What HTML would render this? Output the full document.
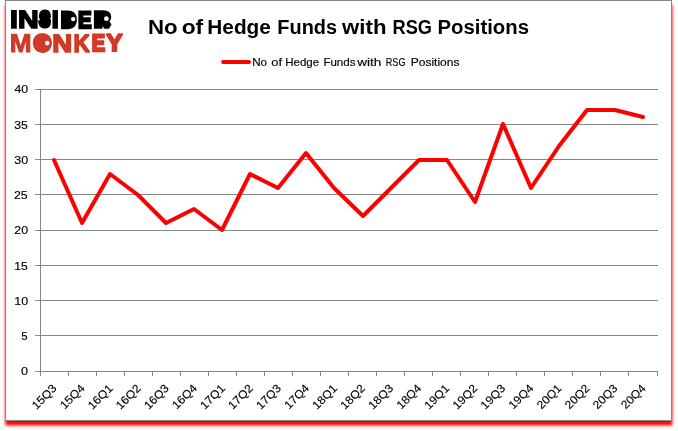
<!DOCTYPE html>
<html lang="en">
<head>
<meta charset="utf-8">
<title>No of Hedge Funds with RSG Positions</title>
<style>
html,body{margin:0;padding:0;background:#fff;}
body{width:678px;height:431px;overflow:hidden;position:relative;font-family:"Liberation Sans",sans-serif;}
svg{position:absolute;left:0;top:0;}
text{font-family:"Liberation Sans",sans-serif;fill:#000;}
#logo text{text-rendering:geometricPrecision;}
.t{stroke:#000;stroke-width:0.15px;}
.tb{stroke:none;}
</style>
</head>
<body>
<svg width="678" height="431" viewBox="0 0 678 431">
<defs><filter id="sh" x="-5%" y="-5%" width="110%" height="110%"><feGaussianBlur stdDeviation="1.6"/></filter></defs>
<rect x="5.3" y="4.5" width="667" height="421" fill="#ff0000" filter="url(#sh)"/>
<rect x="5.5" y="0.5" width="666" height="420" fill="#ffffff" stroke="#868686" stroke-width="1" shape-rendering="crispEdges"/>

<g stroke="#868686" stroke-width="1" fill="none" shape-rendering="crispEdges">
<line x1="35.0" y1="371.5" x2="657.5" y2="371.5"/>
<line x1="35.0" y1="335.5" x2="657.5" y2="335.5"/>
<line x1="35.0" y1="300.5" x2="657.5" y2="300.5"/>
<line x1="35.0" y1="265.5" x2="657.5" y2="265.5"/>
<line x1="35.0" y1="230.5" x2="657.5" y2="230.5"/>
<line x1="35.0" y1="194.5" x2="657.5" y2="194.5"/>
<line x1="35.0" y1="159.5" x2="657.5" y2="159.5"/>
<line x1="35.0" y1="124.5" x2="657.5" y2="124.5"/>
<line x1="35.0" y1="89.5" x2="657.5" y2="89.5"/>
<line x1="40.5" y1="89.0" x2="40.5" y2="376.0"/>
<line x1="68.5" y1="371.5" x2="68.5" y2="376.0"/>
<line x1="96.5" y1="371.5" x2="96.5" y2="376.0"/>
<line x1="124.5" y1="371.5" x2="124.5" y2="376.0"/>
<line x1="152.5" y1="371.5" x2="152.5" y2="376.0"/>
<line x1="180.5" y1="371.5" x2="180.5" y2="376.0"/>
<line x1="208.5" y1="371.5" x2="208.5" y2="376.0"/>
<line x1="236.5" y1="371.5" x2="236.5" y2="376.0"/>
<line x1="264.5" y1="371.5" x2="264.5" y2="376.0"/>
<line x1="292.5" y1="371.5" x2="292.5" y2="376.0"/>
<line x1="320.5" y1="371.5" x2="320.5" y2="376.0"/>
<line x1="348.5" y1="371.5" x2="348.5" y2="376.0"/>
<line x1="376.5" y1="371.5" x2="376.5" y2="376.0"/>
<line x1="404.5" y1="371.5" x2="404.5" y2="376.0"/>
<line x1="432.5" y1="371.5" x2="432.5" y2="376.0"/>
<line x1="460.5" y1="371.5" x2="460.5" y2="376.0"/>
<line x1="488.5" y1="371.5" x2="488.5" y2="376.0"/>
<line x1="516.5" y1="371.5" x2="516.5" y2="376.0"/>
<line x1="544.5" y1="371.5" x2="544.5" y2="376.0"/>
<line x1="572.5" y1="371.5" x2="572.5" y2="376.0"/>
<line x1="600.5" y1="371.5" x2="600.5" y2="376.0"/>
<line x1="628.5" y1="371.5" x2="628.5" y2="376.0"/>
<line x1="657.5" y1="371.5" x2="657.5" y2="376.0"/>
</g>
<text transform="matrix(0.3158 0 0 0.2885 21.09 374.89)" font-size="40" stroke="#000" stroke-width="0.5">0</text>
<text transform="matrix(0.2842 0 0 0.2924 21.34 339.89)" font-size="40" stroke="#000" stroke-width="0.5">5</text>
<text transform="matrix(0.3135 0 0 0.2885 14.16 304.89)" font-size="40" stroke="#000" stroke-width="0.5">10</text>
<text transform="matrix(0.3044 0 0 0.2924 14.19 269.89)" font-size="40" stroke="#000" stroke-width="0.5">15</text>
<text transform="matrix(0.3107 0 0 0.2885 14.28 233.89)" font-size="40" stroke="#000" stroke-width="0.5">20</text>
<text transform="matrix(0.3080 0 0 0.2885 14.03 198.89)" font-size="40" stroke="#000" stroke-width="0.5">25</text>
<text transform="matrix(0.3130 0 0 0.2885 14.18 163.89)" font-size="40" stroke="#000" stroke-width="0.5">30</text>
<text transform="matrix(0.3042 0 0 0.2885 14.19 128.89)" font-size="40" stroke="#000" stroke-width="0.5">35</text>
<text transform="matrix(0.3083 0 0 0.2885 14.38 92.89)" font-size="40" stroke="#000" stroke-width="0.5">40</text>
<text transform="translate(57.37,389.00) rotate(-45)" class="t" x="-29.56" y="0" font-size="11.5" textLength="29.56" lengthAdjust="spacingAndGlyphs">15Q3</text>
<text transform="translate(85.42,389.00) rotate(-45)" class="t" x="-29.42" y="0" font-size="11.5" textLength="29.42" lengthAdjust="spacingAndGlyphs">15Q4</text>
<text transform="translate(113.46,389.00) rotate(-45)" class="t" x="-29.56" y="0" font-size="11.5" textLength="29.56" lengthAdjust="spacingAndGlyphs">16Q1</text>
<text transform="translate(141.51,389.00) rotate(-45)" class="t" x="-29.56" y="0" font-size="11.5" textLength="29.56" lengthAdjust="spacingAndGlyphs">16Q2</text>
<text transform="translate(169.55,389.00) rotate(-45)" class="t" x="-29.56" y="0" font-size="11.5" textLength="29.56" lengthAdjust="spacingAndGlyphs">16Q3</text>
<text transform="translate(197.60,389.00) rotate(-45)" class="t" x="-29.42" y="0" font-size="11.5" textLength="29.42" lengthAdjust="spacingAndGlyphs">16Q4</text>
<text transform="translate(225.65,389.00) rotate(-45)" class="t" x="-29.56" y="0" font-size="11.5" textLength="29.56" lengthAdjust="spacingAndGlyphs">17Q1</text>
<text transform="translate(253.69,389.00) rotate(-45)" class="t" x="-29.56" y="0" font-size="11.5" textLength="29.56" lengthAdjust="spacingAndGlyphs">17Q2</text>
<text transform="translate(281.74,389.00) rotate(-45)" class="t" x="-29.56" y="0" font-size="11.5" textLength="29.56" lengthAdjust="spacingAndGlyphs">17Q3</text>
<text transform="translate(309.78,389.00) rotate(-45)" class="t" x="-29.42" y="0" font-size="11.5" textLength="29.42" lengthAdjust="spacingAndGlyphs">17Q4</text>
<text transform="translate(337.83,389.00) rotate(-45)" class="t" x="-29.56" y="0" font-size="11.5" textLength="29.56" lengthAdjust="spacingAndGlyphs">18Q1</text>
<text transform="translate(365.87,389.00) rotate(-45)" class="t" x="-29.56" y="0" font-size="11.5" textLength="29.56" lengthAdjust="spacingAndGlyphs">18Q2</text>
<text transform="translate(393.92,389.00) rotate(-45)" class="t" x="-29.56" y="0" font-size="11.5" textLength="29.56" lengthAdjust="spacingAndGlyphs">18Q3</text>
<text transform="translate(421.96,389.00) rotate(-45)" class="t" x="-29.42" y="0" font-size="11.5" textLength="29.42" lengthAdjust="spacingAndGlyphs">18Q4</text>
<text transform="translate(450.01,389.00) rotate(-45)" class="t" x="-29.56" y="0" font-size="11.5" textLength="29.56" lengthAdjust="spacingAndGlyphs">19Q1</text>
<text transform="translate(478.05,389.00) rotate(-45)" class="t" x="-29.56" y="0" font-size="11.5" textLength="29.56" lengthAdjust="spacingAndGlyphs">19Q2</text>
<text transform="translate(506.10,389.00) rotate(-45)" class="t" x="-29.56" y="0" font-size="11.5" textLength="29.56" lengthAdjust="spacingAndGlyphs">19Q3</text>
<text transform="translate(534.15,389.00) rotate(-45)" class="t" x="-29.42" y="0" font-size="11.5" textLength="29.42" lengthAdjust="spacingAndGlyphs">19Q4</text>
<text transform="translate(562.19,389.00) rotate(-45)" class="t" x="-29.29" y="0" font-size="11.5" textLength="29.29" lengthAdjust="spacingAndGlyphs">20Q1</text>
<text transform="translate(590.24,389.00) rotate(-45)" class="t" x="-29.29" y="0" font-size="11.5" textLength="29.29" lengthAdjust="spacingAndGlyphs">20Q2</text>
<text transform="translate(618.28,389.00) rotate(-45)" class="t" x="-29.29" y="0" font-size="11.5" textLength="29.29" lengthAdjust="spacingAndGlyphs">20Q3</text>
<text transform="translate(646.33,389.00) rotate(-45)" class="t" x="-29.15" y="0" font-size="11.5" textLength="29.15" lengthAdjust="spacingAndGlyphs">20Q4</text>
<polyline points="54,160 82,223 110,174 138,195 166,223 194,209 222,230 250,174 278,188 306,153 334,188 363,216 391,188 419,160 447,160 475,202 503,124 531,188 559,146 587,110 615,110 643,117" fill="none" stroke="#ff0000" stroke-width="4" stroke-linecap="round" stroke-linejoin="round"/>
<line x1="223.1" y1="62.1" x2="249.0" y2="62.1" stroke="#ff0000" stroke-width="4" stroke-linecap="round"/>
<text class="t" y="65.7" font-size="11.2" font-weight="normal" ><tspan x="252.19" textLength="14.86" lengthAdjust="spacingAndGlyphs">No</tspan> <tspan x="271.32" textLength="10.84" lengthAdjust="spacingAndGlyphs">of</tspan> <tspan x="285.20" textLength="33.88" lengthAdjust="spacingAndGlyphs">Hedge</tspan> <tspan x="323.40" textLength="32.09" lengthAdjust="spacingAndGlyphs">Funds</tspan> <tspan x="357.30" textLength="24.09" lengthAdjust="spacingAndGlyphs">with</tspan> <tspan x="385.79" textLength="19.72" lengthAdjust="spacingAndGlyphs">RSG</tspan> <tspan x="410.66" textLength="48.88" lengthAdjust="spacingAndGlyphs">Positions</tspan></text>
<text class="tb" y="33.6" font-size="21.1" font-weight="bold" ><tspan x="147.95" textLength="29.67" lengthAdjust="spacingAndGlyphs">No</tspan> <tspan x="181.65" textLength="21.56" lengthAdjust="spacingAndGlyphs">of</tspan> <tspan x="207.34" textLength="63.56" lengthAdjust="spacingAndGlyphs">Hedge</tspan> <tspan x="277.30" textLength="59.75" lengthAdjust="spacingAndGlyphs">Funds</tspan> <tspan x="342.10" textLength="44.38" lengthAdjust="spacingAndGlyphs">with</tspan> <tspan x="392.51" textLength="39.55" lengthAdjust="spacingAndGlyphs">RSG</tspan> <tspan x="437.47" textLength="91.53" lengthAdjust="spacingAndGlyphs">Positions</tspan></text>
<g id="logo">
<text font-weight="bold" stroke="#000000" stroke-linejoin="miter" style="fill:#000000"><tspan x="9.73" y="28.07" font-size="25.356" textLength="8.335" lengthAdjust="spacingAndGlyphs" stroke-width="1.268" stroke-miterlimit="4">I</tspan><tspan x="18.12" y="27.92" font-size="24.933" textLength="20.680" lengthAdjust="spacingAndGlyphs" stroke-width="1.558" stroke-miterlimit="6">N</tspan><tspan x="39.73" y="26.40" font-size="20.277" textLength="10.155" lengthAdjust="spacingAndGlyphs" stroke-width="4.816" stroke-miterlimit="4">S</tspan><tspan x="51.24" y="28.07" font-size="25.356" textLength="7.911" lengthAdjust="spacingAndGlyphs" stroke-width="1.268" stroke-miterlimit="4">I</tspan><tspan x="62.81" y="25.55" font-size="18.024" textLength="11.968" lengthAdjust="spacingAndGlyphs" stroke-width="6.308" stroke-miterlimit="4">D</tspan><tspan x="77.88" y="27.51" font-size="23.746" textLength="13.596" lengthAdjust="spacingAndGlyphs" stroke-width="2.375" stroke-miterlimit="4">E</tspan><tspan x="95.63" y="25.86" font-size="18.937" textLength="13.931" lengthAdjust="spacingAndGlyphs" stroke-width="5.681" stroke-miterlimit="1.5">R</tspan></text>
<text font-weight="bold" stroke="#d13a27" stroke-linejoin="miter" style="fill:#d13a27"><tspan x="9.72" y="51.82" font-size="25.793" textLength="21.861" lengthAdjust="spacingAndGlyphs" stroke-width="0.967" stroke-miterlimit="2">M</tspan><tspan x="35.73" y="49.08" font-size="17.680" textLength="13.285" lengthAdjust="spacingAndGlyphs" stroke-width="7.514" stroke-miterlimit="4">O</tspan><tspan x="52.15" y="51.52" font-size="24.933" textLength="19.906" lengthAdjust="spacingAndGlyphs" stroke-width="1.558" stroke-miterlimit="6">N</tspan><tspan x="73.42" y="51.52" font-size="24.933" textLength="16.333" lengthAdjust="spacingAndGlyphs" stroke-width="1.558" stroke-miterlimit="1.5">K</tspan><tspan x="91.69" y="51.11" font-size="23.746" textLength="13.293" lengthAdjust="spacingAndGlyphs" stroke-width="2.375" stroke-miterlimit="4">E</tspan><tspan x="105.99" y="51.38" font-size="24.525" textLength="16.850" lengthAdjust="spacingAndGlyphs" stroke-width="1.839" stroke-miterlimit="1.5">Y</tspan></text>
<circle cx="73.2" cy="19.1" r="2.2" fill="#fff"/>
<circle cx="106.4" cy="18.7" r="2.4" fill="#fff"/>
<circle cx="47.2" cy="43.1" r="2.3" fill="#fff"/>
</g>
</svg>
</body>
</html>
